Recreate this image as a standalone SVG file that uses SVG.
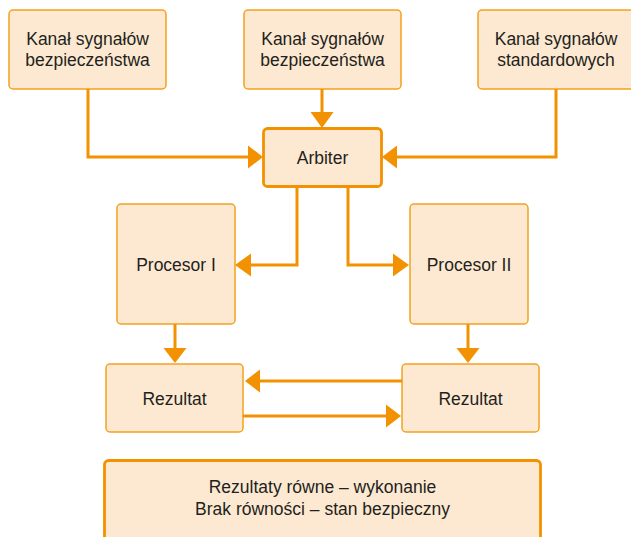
<svg xmlns="http://www.w3.org/2000/svg" width="631" height="537" viewBox="0 0 631 537">
<style>
.box{fill:#fde9d1;stroke:#f4a11d;stroke-width:1.5}
.bold{fill:#fde9d1;stroke:#f39200;stroke-width:2.8}
.t{font-family:"Liberation Sans",Arial,sans-serif;font-size:17.5px;fill:#231f20;text-anchor:middle}
.c{fill:none;stroke:#f39200;stroke-width:3}
.ah{fill:#f39200}
</style>
<rect width="631" height="537" fill="#ffffff"/>
<g id="kanal1"><rect class="box" x="9" y="10" width="157" height="79" rx="4"/><text class="t" x="87.5" y="45">Kanał sygnałów</text><text class="t" x="87.5" y="66">bezpieczeństwa</text></g>
<g id="kanal2"><rect class="box" x="244" y="10" width="157" height="79" rx="4"/><text class="t" x="322.5" y="45">Kanał sygnałów</text><text class="t" x="322.5" y="66">bezpieczeństwa</text></g>
<g id="kanal3"><rect class="box" x="478" y="10" width="158" height="79" rx="4"/><text class="t" x="556" y="45">Kanał sygnałów</text><text class="t" x="556" y="66">standardowych</text></g>
<g id="arbiter"><rect class="bold" x="263.5" y="128.5" width="118" height="58" rx="4"/><text class="t" x="322.5" y="164">Arbiter</text></g>
<g id="procesor1"><rect class="box" x="117" y="204" width="118" height="120" rx="4"/><text class="t" x="176" y="271">Procesor I</text></g>
<g id="procesor2"><rect class="box" x="410" y="204" width="118" height="120" rx="4"/><text class="t" x="469" y="271">Procesor II</text></g>
<g id="rezultat1"><rect class="box" x="106" y="364" width="137" height="68" rx="4"/><text class="t" x="174.5" y="405">Rezultat</text></g>
<g id="rezultat2"><rect class="box" x="402" y="364" width="137" height="68" rx="4"/><text class="t" x="470.5" y="405">Rezultat</text></g>
<g id="wynik"><rect class="bold" x="104.5" y="460.5" width="436" height="90" rx="4"/><text class="t" x="322.5" y="493">Rezultaty równe – wykonanie</text><text class="t" x="322.5" y="515">Brak równości – stan bezpieczny</text></g>
<g id="connectors">
<path class="c" d="M88 89 V157 H249"/><polygon class="ah" points="263,157 248,145.5 248,168.5"/>
<path class="c" d="M322 89 V113"/><polygon class="ah" points="322,128 310.5,112 333.5,112"/>
<path class="c" d="M556 89 V157 H397"/><polygon class="ah" points="382,157 397,145.5 397,168.5"/>
<path class="c" d="M297 187 V265 H250"/><polygon class="ah" points="235,265 251,253.5 251,276.5"/>
<path class="c" d="M348 187 V265 H394"/><polygon class="ah" points="409,265 393,253.5 393,276.5"/>
<path class="c" d="M175 324 V349"/><polygon class="ah" points="175,363 163.5,348 186.5,348"/>
<path class="c" d="M468 324 V349"/><polygon class="ah" points="468,363 456.5,348 479.5,348"/>
<path class="c" d="M402 381 H259"/><polygon class="ah" points="245,381 260,369.5 260,392.5"/>
<path class="c" d="M243 416 H387"/><polygon class="ah" points="401,416 386,404.5 386,427.5"/>
</g>
</svg>
